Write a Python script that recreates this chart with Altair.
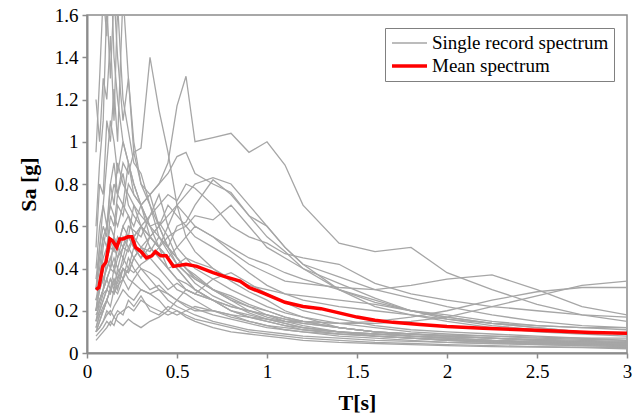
import altair as alt
import pandas as pd

# Period grid for single records
T_grid = [0.05, 0.07, 0.09, 0.11, 0.13, 0.15, 0.17, 0.2, 0.23, 0.26, 0.3, 0.35, 0.4, 0.45, 0.5,
          0.55, 0.6, 0.7, 0.8, 0.9, 1.0, 1.1, 1.2, 1.4, 1.6, 1.8, 2.0, 2.25, 2.5, 2.75, 3.0]

r01 = [0.25,0.35,0.45,0.5,0.6,0.55,0.7,0.65,0.8,0.75,0.7,0.75,0.8,0.9,1.17,1.31,1.0,1.02,1.04,0.95,1.0,0.89,0.7,0.52,0.48,0.5,0.38,0.3,0.23,0.18,0.15]
r02 = [0.3,0.5,0.7,0.6,0.8,0.9,0.75,0.9,0.85,0.95,0.97,1.40,1.15,0.95,0.7,0.55,0.48,0.4,0.34,0.29,0.25,0.2,0.17,0.12,0.1,0.08,0.07,0.06,0.05,0.04,0.04]
r03 = [0.2,0.3,0.4,0.45,0.5,0.55,0.5,0.6,0.65,0.6,0.7,0.75,0.8,0.85,0.93,0.95,0.85,0.8,0.76,0.65,0.6,0.5,0.42,0.36,0.3,0.26,0.22,0.18,0.15,0.13,0.12]
r04 = [0.95,1.3,1.7,1.5,1.9,1.4,1.2,1.0,0.9,0.8,0.7,0.55,0.5,0.45,0.4,0.35,0.3,0.25,0.2,0.17,0.15,0.13,0.11,0.09,0.08,0.07,0.06,0.05,0.045,0.04,0.035]
r05 = [0.6,0.9,1.1,1.65,1.3,1.7,1.4,1.1,1.3,1.0,0.8,0.7,0.6,0.5,0.45,0.4,0.36,0.3,0.25,0.22,0.18,0.15,0.13,0.1,0.09,0.08,0.07,0.06,0.05,0.05,0.04]
r06 = [1.2,1.0,1.3,1.2,1.5,1.1,1.65,1.2,1.05,0.9,0.85,0.7,0.55,0.5,0.42,0.38,0.33,0.27,0.23,0.19,0.16,0.14,0.12,0.1,0.08,0.07,0.065,0.055,0.05,0.045,0.04]
r07 = [0.5,0.8,0.75,1.1,1.0,1.25,1.0,1.7,1.3,0.95,0.8,0.75,0.6,0.5,0.45,0.4,0.35,0.3,0.26,0.22,0.2,0.17,0.15,0.12,0.1,0.09,0.08,0.07,0.06,0.055,0.05]
r08 = [0.2,0.35,0.5,0.6,0.7,0.8,0.75,0.85,0.7,0.65,0.6,0.5,0.45,0.4,0.35,0.33,0.3,0.25,0.2,0.17,0.15,0.13,0.12,0.1,0.08,0.07,0.06,0.05,0.045,0.04,0.035]
r09 = [0.3,0.4,0.55,0.5,0.65,0.6,0.75,0.7,0.9,0.8,0.7,0.6,0.55,0.48,0.42,0.38,0.35,0.3,0.27,0.23,0.2,0.17,0.15,0.12,0.1,0.09,0.08,0.07,0.065,0.06,0.055]
r10 = [0.15,0.25,0.3,0.45,0.4,0.55,0.5,0.6,0.55,0.7,0.65,0.6,0.62,0.55,0.45,0.4,0.37,0.3,0.25,0.2,0.17,0.15,0.14,0.12,0.1,0.09,0.085,0.08,0.075,0.07,0.07]
r11 = [0.25,0.3,0.4,0.45,0.5,0.48,0.55,0.5,0.6,0.58,0.55,0.65,0.75,0.6,0.5,0.45,0.4,0.35,0.3,0.26,0.22,0.19,0.17,0.14,0.12,0.1,0.09,0.08,0.07,0.065,0.06]
r12 = [0.2,0.25,0.3,0.35,0.3,0.4,0.35,0.45,0.4,0.5,0.45,0.55,0.6,0.65,0.7,0.75,0.8,0.83,0.8,0.7,0.6,0.5,0.42,0.3,0.22,0.18,0.15,0.12,0.1,0.09,0.08]
r13 = [0.15,0.2,0.25,0.3,0.28,0.35,0.33,0.4,0.38,0.45,0.5,0.48,0.55,0.5,0.6,0.62,0.7,0.82,0.75,0.65,0.55,0.48,0.4,0.3,0.24,0.2,0.17,0.14,0.12,0.1,0.09]
r14 = [0.12,0.18,0.22,0.25,0.3,0.28,0.32,0.35,0.4,0.38,0.42,0.45,0.5,0.55,0.58,0.6,0.65,0.63,0.7,0.6,0.5,0.45,0.4,0.33,0.26,0.2,0.16,0.13,0.11,0.1,0.09]
r15 = [0.25,0.3,0.35,0.4,0.45,0.4,0.5,0.45,0.55,0.5,0.6,0.55,0.5,0.6,0.7,0.65,0.6,0.55,0.5,0.45,0.42,0.38,0.35,0.3,0.25,0.2,0.17,0.14,0.12,0.1,0.09]
r16 = [0.1,0.15,0.2,0.25,0.3,0.28,0.35,0.4,0.38,0.45,0.5,0.55,0.5,0.45,0.5,0.55,0.6,0.55,0.48,0.42,0.38,0.34,0.33,0.31,0.3,0.32,0.35,0.37,0.3,0.22,0.18]
r17 = [0.2,0.25,0.3,0.35,0.4,0.38,0.45,0.5,0.48,0.55,0.6,0.65,0.7,0.75,0.72,0.8,0.78,0.7,0.6,0.55,0.52,0.47,0.45,0.42,0.33,0.28,0.25,0.22,0.2,0.18,0.17]
r18 = [0.1,0.15,0.2,0.25,0.22,0.3,0.28,0.35,0.3,0.35,0.4,0.38,0.35,0.3,0.33,0.3,0.28,0.25,0.22,0.2,0.18,0.16,0.15,0.14,0.14,0.15,0.17,0.22,0.27,0.32,0.34]
r19 = [0.15,0.2,0.25,0.3,0.35,0.3,0.4,0.35,0.45,0.4,0.35,0.3,0.32,0.28,0.25,0.22,0.2,0.2,0.18,0.17,0.16,0.15,0.15,0.14,0.15,0.17,0.2,0.25,0.29,0.31,0.31]
r20 = [0.06,0.08,0.1,0.12,0.15,0.13,0.18,0.2,0.22,0.2,0.25,0.22,0.2,0.18,0.2,0.17,0.15,0.12,0.1,0.09,0.08,0.07,0.06,0.05,0.045,0.04,0.035,0.03,0.028,0.025,0.02]
r21 = [0.08,0.1,0.12,0.15,0.13,0.17,0.2,0.18,0.25,0.22,0.27,0.2,0.18,0.22,0.2,0.18,0.16,0.14,0.12,0.1,0.09,0.08,0.07,0.06,0.05,0.045,0.04,0.035,0.03,0.028,0.025]
r22 = [0.1,0.12,0.15,0.2,0.18,0.22,0.25,0.3,0.27,0.25,0.3,0.28,0.25,0.2,0.18,0.2,0.22,0.2,0.17,0.15,0.13,0.11,0.1,0.08,0.07,0.06,0.05,0.045,0.04,0.035,0.03]
r23 = [0.12,0.18,0.2,0.25,0.3,0.35,0.3,0.4,0.35,0.33,0.3,0.28,0.3,0.25,0.22,0.2,0.18,0.15,0.13,0.11,0.1,0.09,0.08,0.07,0.06,0.055,0.05,0.045,0.04,0.035,0.03]
r24 = [0.2,0.3,0.35,0.4,0.45,0.5,0.45,0.55,0.5,0.45,0.4,0.35,0.3,0.28,0.25,0.23,0.21,0.18,0.16,0.14,0.12,0.11,0.1,0.09,0.08,0.07,0.06,0.055,0.05,0.045,0.04]
r25 = [0.3,0.45,0.55,0.6,0.7,0.65,0.6,0.7,0.65,0.55,0.5,0.45,0.4,0.35,0.3,0.28,0.25,0.2,0.18,0.15,0.13,0.12,0.11,0.1,0.09,0.08,0.075,0.07,0.06,0.055,0.05]
r26 = [0.35,0.5,0.6,0.55,0.8,0.7,0.9,0.8,0.75,0.7,0.6,0.55,0.5,0.4,0.35,0.3,0.28,0.25,0.22,0.2,0.18,0.16,0.14,0.12,0.1,0.09,0.08,0.07,0.06,0.05,0.05]
r27 = [0.2,0.25,0.3,0.35,0.4,0.45,0.4,0.5,0.55,0.5,0.45,0.5,0.45,0.4,0.42,0.45,0.43,0.4,0.35,0.32,0.3,0.28,0.27,0.25,0.23,0.2,0.18,0.15,0.13,0.12,0.12]
r28 = [0.18,0.22,0.28,0.3,0.35,0.32,0.38,0.42,0.5,0.55,0.6,0.55,0.6,0.7,0.65,0.6,0.55,0.5,0.45,0.38,0.32,0.28,0.25,0.22,0.2,0.18,0.16,0.14,0.13,0.12,0.11]
r29 = [0.1,0.12,0.15,0.18,0.2,0.17,0.15,0.13,0.16,0.14,0.12,0.15,0.17,0.2,0.25,0.3,0.28,0.35,0.38,0.33,0.28,0.24,0.2,0.16,0.13,0.11,0.1,0.09,0.08,0.07,0.06]
r30 = [0.4,0.6,0.7,0.9,1.1,1.0,0.85,1.0,0.9,0.75,0.7,0.6,0.5,0.45,0.4,0.35,0.3,0.25,0.2,0.18,0.16,0.14,0.12,0.1,0.09,0.08,0.07,0.06,0.055,0.05,0.045]

records = [r01, r02, r03, r04, r05, r06, r07, r08, r09, r10, r11, r12, r13, r14, r15,
           r16, r17, r18, r19, r20, r21, r22, r23, r24, r25, r26, r27, r28, r29, r30]

# Mean spectrum
mean_T = [0.05, 0.066, 0.088, 0.105, 0.127, 0.143, 0.165, 0.182, 0.2, 0.227, 0.249, 0.27, 0.3,
          0.33, 0.36, 0.38, 0.41, 0.44, 0.48, 0.55, 0.61, 0.7, 0.77, 0.85, 0.9, 0.99, 1.1, 1.2,
          1.3, 1.4, 1.5, 1.6, 1.7, 1.85, 2.0, 2.2, 2.5, 2.8, 3.0]
mean_Sa = [0.30, 0.31, 0.41, 0.43, 0.54, 0.53, 0.50, 0.54, 0.54, 0.55, 0.55, 0.50, 0.48,
           0.45, 0.46, 0.48, 0.46, 0.46, 0.41, 0.42, 0.41, 0.38, 0.36, 0.34, 0.31, 0.28, 0.24, 0.22,
           0.21, 0.19, 0.17, 0.155, 0.145, 0.135, 0.125, 0.117, 0.108, 0.097, 0.093]

series_names = ["Single record spectrum", "Mean spectrum"]
x_ticks = [0, 0.5, 1, 1.5, 2, 2.5, 3]
y_ticks = [0, 0.2, 0.4, 0.6, 0.8, 1, 1.2, 1.4, 1.6]

rows = []
for i, rec in enumerate(records):
    for t, s in zip(T_grid, rec):
        rows.append({"T": t, "Sa": s, "rec": f"r{i+1:02d}", "kind": series_names[0]})
grey_df = pd.DataFrame(rows)
mean_df = pd.DataFrame({"T": mean_T, "Sa": mean_Sa, "rec": "mean", "kind": series_names[1]})

font = "Liberation Serif"

color_scale = alt.Scale(domain=series_names, range=["#a6a6a6", "#ff0000"])
width_scale = alt.Scale(domain=series_names, range=[1.3, 3.5])

legend = alt.Legend(
    title=None, orient="none", legendX=298, legendY=13,
    symbolType="stroke", symbolSize=1225, symbolStrokeWidth=1.3,
    labelFont=font, labelFontSize=19, labelColor="black", labelLimit=300,
    strokeColor="#808080", padding=5, rowPadding=3, labelOffset=3,
    clipHeight=20, fillColor="white",
)

x_enc = alt.X("T:Q", scale=alt.Scale(domain=[0, 3], nice=False),
              axis=alt.Axis(values=x_ticks, format="~g", title="T[s]", titlePadding=11,
                            labelFont=font, titleFont=font))
y_enc = alt.Y("Sa:Q", scale=alt.Scale(domain=[0, 1.6], nice=False),
              axis=alt.Axis(values=y_ticks, format="~g", title="Sa [g]", titlePadding=14,
                            labelFont=font, titleFont=font))

grey = alt.Chart(grey_df).mark_line(clip=True).encode(
    x=x_enc, y=y_enc, detail="rec:N",
    color=alt.Color("kind:N", scale=color_scale, legend=legend),
    strokeWidth=alt.StrokeWidth("kind:N", scale=width_scale, legend=legend),
)
red = alt.Chart(mean_df).mark_line(clip=True).encode(
    x=x_enc, y=y_enc,
    color=alt.Color("kind:N", scale=color_scale, legend=legend),
    strokeWidth=alt.StrokeWidth("kind:N", scale=width_scale, legend=legend),
)

chart = alt.layer(grey, red).properties(
    width=540, height=338,
    autosize=alt.AutoSizeParams(type="none"),
    padding={"left": 87, "top": 15, "right": 6, "bottom": 63},
).configure(
    font=font
).configure_view(
    stroke="#8c8c8c", strokeWidth=1.5
).configure_axis(
    grid=False, domainColor="#8c8c8c", domainWidth=2, tickColor="#8c8c8c", tickSize=5,
    tickWidth=1.5, labelFont=font, labelFontSize=19, labelColor="black",
    titleFont=font, titleFontSize=22, titleFontWeight="bold", titleColor="black",
    labelPadding=4, labelFlush=False,
).configure_legend(
    labelFont=font
)

chart.save("out.html", embed_options={"renderer": "svg", "actions": False})
